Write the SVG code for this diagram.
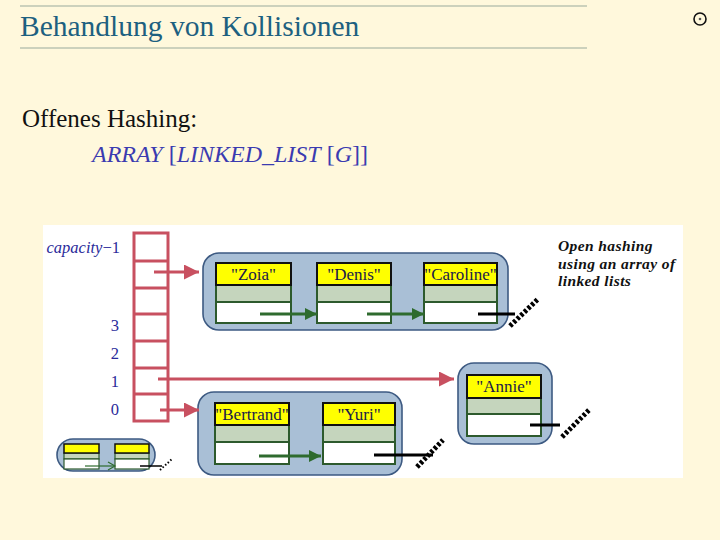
<svg xmlns="http://www.w3.org/2000/svg" width="720" height="540" viewBox="0 0 720 540">
<defs>
<style>
.bg{fill:#FFF8DC}
.rule{stroke:#9aaa9c;stroke-width:1.2}
.title{font-family:"Liberation Serif",serif;font-size:29.5px;fill:#1d6080}
.body{font-family:"Liberation Serif",serif;font-size:25px;fill:#111}
.code{font-family:"Liberation Serif",serif;font-size:24px;fill:#3b3bb0}
.idx{font-family:"Liberation Serif",serif;font-size:16.5px;fill:#2a2a9a}
.note{font-family:"Liberation Serif",serif;font-size:15.5px;font-weight:bold;font-style:italic;fill:#111;letter-spacing:0.4px}
.box{fill:#a9bfd6;stroke:#3d5a82;stroke-width:1.6}
.yel{fill:#ffff00;stroke:#111;stroke-width:2}
.grn{fill:#c5d5bd;stroke:#2d5a2d;stroke-width:2}
.wht{fill:#fff;stroke:#2d5a2d;stroke-width:2}
.name{font-family:"Liberation Serif",serif;font-size:17px;fill:#1a1a4a;text-anchor:middle}
.cell{fill:#fff;stroke:#c85060;stroke-width:3}
.red{stroke:#c85060;stroke-width:3;fill:none}
.gar{stroke:#2e6b2e;stroke-width:3;fill:none}
.blk{stroke:#000;stroke-width:3;fill:none}
.void{stroke:#000;stroke-width:5;stroke-dasharray:3 2;fill:none}
</style>
<marker id="ra" viewBox="0 0 10 10" refX="10" refY="5" markerWidth="5" markerHeight="5" markerUnits="strokeWidth" orient="auto"><path d="M0,0 L10,5 L0,10 z" fill="#c85060"/></marker>
<marker id="ga" viewBox="0 0 10 10" refX="10" refY="5" markerWidth="6.5" markerHeight="4" markerUnits="strokeWidth" orient="auto"><path d="M0,0 L10,5 L0,10 z" fill="#2e6b2e"/></marker>
</defs>
<rect class="bg" x="0" y="0" width="720" height="540"/>
<line class="rule" x1="20" y1="6" x2="587" y2="6"/>
<line class="rule" x1="20" y1="48" x2="587" y2="48"/>
<text class="title" x="20" y="36">Behandlung von Kollisionen</text>
<g id="icon"><circle cx="700" cy="19" r="6" fill="none" stroke="#111" stroke-width="1.6"/><circle cx="700" cy="19" r="1.3" fill="#555"/></g>
<text class="body" x="22" y="127">Offenes Hashing:</text>
<text class="code" x="92" y="162"><tspan font-style="italic">ARRAY</tspan> [<tspan font-style="italic">LINKED_LIST</tspan> [<tspan font-style="italic">G</tspan>]]</text>

<rect x="43" y="225" width="640" height="253" fill="#fff"/>

<g id="array">
<rect class="cell" x="134" y="233" width="34" height="188"/>
<line class="red" x1="134" y1="261" x2="168" y2="261"/>
<line class="red" x1="134" y1="288" x2="168" y2="288"/>
<line class="red" x1="134" y1="314" x2="168" y2="314"/>
<line class="red" x1="134" y1="341" x2="168" y2="341"/>
<line class="red" x1="134" y1="368" x2="168" y2="368"/>
<line class="red" x1="134" y1="394" x2="168" y2="394"/>
<text class="idx" x="120" y="253" text-anchor="end"><tspan font-style="italic">capacity</tspan>−1</text>
<text class="idx" x="119" y="331" text-anchor="end">3</text>
<text class="idx" x="119" y="359" text-anchor="end">2</text>
<text class="idx" x="119" y="387" text-anchor="end">1</text>
<text class="idx" x="119" y="415" text-anchor="end">0</text>
</g>

<text class="note" x="558" y="251">Open hashing</text>
<text class="note" x="558" y="268.5">using an array of</text>
<text class="note" x="558" y="286">linked lists</text>

<g id="list1">
<rect class="box" x="203" y="253" width="305" height="77" rx="16"/>
<g id="zoia"><rect class="grn" x="216" y="285" width="75" height="17"/><rect class="wht" x="216" y="302" width="75" height="21"/><rect class="yel" x="216" y="263" width="75" height="22"/><text class="name" x="253.5" y="280">"Zoia"</text></g>
<g id="denis"><rect class="grn" x="317" y="285" width="74" height="17"/><rect class="wht" x="317" y="302" width="74" height="21"/><rect class="yel" x="317" y="263" width="74" height="22"/><text class="name" x="354" y="280">"Denis"</text></g>
<g id="caroline"><rect class="grn" x="424" y="285" width="73" height="17"/><rect class="wht" x="424" y="302" width="73" height="21"/><rect class="yel" x="424" y="263" width="73" height="22"/><text class="name" x="460.5" y="280">"Caroline"</text></g>
</g>

<g id="list2">
<rect class="box" x="458" y="363" width="94" height="81" rx="16"/>
<g id="annie"><rect class="grn" x="467" y="398" width="74" height="16"/><rect class="wht" x="467" y="414" width="74" height="22"/><rect class="yel" x="467" y="375" width="74" height="23"/><text class="name" x="504" y="392">"Annie"</text></g>
</g>

<g id="list3">
<rect class="box" x="198" y="392" width="204" height="83" rx="16"/>
<g id="bertrand"><rect class="grn" x="215" y="425" width="74" height="17"/><rect class="wht" x="215" y="442" width="74" height="22"/><rect class="yel" x="215" y="403" width="74" height="22"/><text class="name" x="252" y="420">"Bertrand"</text></g>
<g id="yuri"><rect class="grn" x="323" y="425" width="72" height="17"/><rect class="wht" x="323" y="442" width="72" height="22"/><rect class="yel" x="323" y="403" width="72" height="22"/><text class="name" x="359" y="420">"Yuri"</text></g>
</g>

<g id="legend">
<rect class="box" x="57" y="439" width="98" height="32" rx="16"/>
<g id="lnode1"><rect x="64" y="453" width="35" height="6" fill="#c5d5bd" stroke="#2d5a2d" stroke-width="1.2"/><rect x="64" y="459" width="35" height="10" fill="#fff" stroke="#2d5a2d" stroke-width="1.2"/><rect x="64" y="444" width="35" height="9" fill="#ffff00" stroke="#111" stroke-width="1.5"/></g>
<g id="lnode2"><rect x="115" y="453" width="34" height="6" fill="#c5d5bd" stroke="#2d5a2d" stroke-width="1.2"/><rect x="115" y="459" width="34" height="10" fill="#fff" stroke="#2d5a2d" stroke-width="1.2"/><rect x="115" y="444" width="34" height="9" fill="#ffff00" stroke="#111" stroke-width="1.5"/></g>
</g>

<g id="connectors">
<line class="red" x1="154" y1="272" x2="199" y2="272" marker-end="url(#ra)"/>
<line class="red" x1="158" y1="379" x2="454" y2="379" marker-end="url(#ra)"/>
<line class="red" x1="160" y1="410" x2="199" y2="410" marker-end="url(#ra)"/>
<line class="gar" x1="260" y1="314" x2="317" y2="314" marker-end="url(#ga)"/>
<line class="gar" x1="367" y1="314" x2="424" y2="314" marker-end="url(#ga)"/>
<line class="gar" x1="259" y1="456" x2="321" y2="456" marker-end="url(#ga)"/>
<line class="blk" x1="478" y1="314" x2="515" y2="314"/>
<line class="void" x1="510" y1="326" x2="538" y2="299"/>
<line class="blk" x1="530" y1="425" x2="560" y2="425"/>
<line class="void" x1="562" y1="437" x2="589" y2="410"/>
<line class="blk" x1="374" y1="455" x2="433" y2="455"/>
<line class="void" x1="417" y1="467" x2="443" y2="440"/>
<line x1="85" y1="466" x2="114" y2="466" stroke="#2e6b2e" stroke-width="1.2"/>
<path d="M108,462 L115,466 L108,470" fill="none" stroke="#2e6b2e" stroke-width="1.2"/>
<line x1="140" y1="466" x2="162" y2="466" stroke="#000" stroke-width="1.5"/>
<line x1="160" y1="470" x2="172" y2="459" stroke="#000" stroke-width="2" stroke-dasharray="1.5 2"/>
</g>
</svg>
